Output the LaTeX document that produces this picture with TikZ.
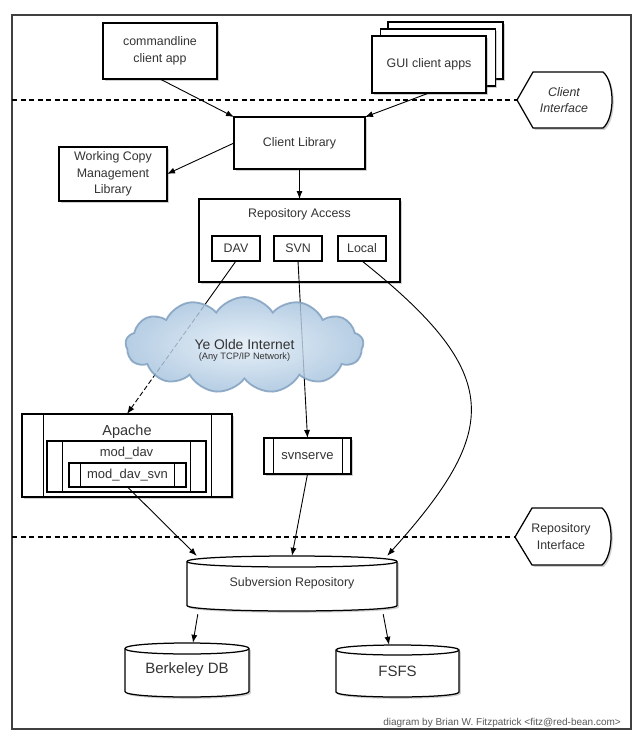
\documentclass[tikz,border=0pt]{standalone}
\usepackage{fontspec}
\setmainfont{Liberation Sans}
\usetikzlibrary{arrows.meta,shapes.symbols,shadows,calc}
\definecolor{txt}{HTML}{333333}
\definecolor{cloudin}{HTML}{E2EDF7}
\definecolor{cloudout}{HTML}{A6C3DE}
\definecolor{cloudedge}{HTML}{7E9EBE}
\newcommand\lbl{\fontsize{12.4}{16.5}\selectfont}
\newcommand\cylpath[6][]{%
  \filldraw[cyl,#1] (#2,#4+#6) -- (#2,#5-#6) .. controls (#2,#5+0.333*#6) and (#3,#5+0.333*#6) .. (#3,#5-#6)
    -- (#3,#4+#6) .. controls (#3,#4-0.333*#6) and (#2,#4-0.333*#6) .. cycle;
  \draw[line width=1.25pt] (#2,#4+#6) .. controls (#2,#4+2.333*#6) and (#3,#4+2.333*#6) .. (#3,#4+#6);}
\tikzset{
  shad/.style={drop shadow={shadow xshift=1.8pt,shadow yshift=-1.8pt,opacity=0.3,fill=black!60}},
  box/.style={draw=black,line width=1.25pt,fill=white,shad,text=txt,font=\lbl,align=center,inner sep=0pt,outer sep=0pt},
  plainbox/.style={draw=black,line width=1.25pt,fill=white,text=txt,font=\lbl,align=center,inner sep=0pt,outer sep=0pt},
  lbltext/.style={text=txt,font=\lbl,align=center,inner sep=0pt},
  cyl/.style={draw=black,line width=1.25pt,fill=white,shad},
  iface/.style={draw=black,line width=1.25pt,fill=white,shad},
  bar/.style={line width=1pt},
  arr/.style={-{Latex[length=8pt,width=6pt]},line width=0.9pt},
  conn/.style={line width=0.9pt},
  dashline/.style={line width=1.2pt,dash pattern=on 5pt off 3.5pt},
}
\begin{document}
\begin{tikzpicture}[x=1pt,y=-1pt]
\useasboundingbox (0,0) rectangle (640,741);
\fill[white] (0,0) rectangle (640,741);
% frame
\draw[line width=1.3pt,draw=black!75] (12,15) rectangle (631,729);

% interface markers
\coordinate (ciTip) at (517,100);
\coordinate (ciLeft) at (12,100);
\filldraw[iface] (ciTip) -- (533,72) -- (603,72) .. controls (615,82) and (615,118) .. (603,128) -- (533,128) -- cycle;
\node[lbltext,font=\lbl\itshape] (ci) at (564,100) {Client\\Interface};
\draw[dashline] (ciLeft) -- (ciTip);

\coordinate (riTip) at (515,537);
\coordinate (riLeft) at (12,537);
\filldraw[iface] (riTip) -- (532,508) -- (602,508) .. controls (614,518) and (614,555) .. (602,565) -- (532,565) -- cycle;
\node[lbltext] (ri) at (561,536.5) {Repository\\Interface};
\draw[dashline] (riLeft) -- (riTip);

% client apps
\node[box,minimum width=114pt,minimum height=56pt] (cmd) at (160,51) {commandline\\client app};
\node[box,minimum width=115pt,minimum height=57pt] (guiC) at (445.5,50.5) {};
\node[box,minimum width=115pt,minimum height=57pt] (guiB) at (438,57.5) {};
\node[box,minimum width=114pt,minimum height=57pt] (gui) at (429,64.5) {GUI client apps};

% libraries
\node[box,minimum width=131pt,minimum height=52pt] (cl) at (299.5,143) {Client Library};
\node[box,minimum width=108pt,minimum height=54pt] (wc) at (113,174) {Working Copy\\Management\\Library};

% repository access
\node[box,minimum width=201pt,minimum height=83pt] (ra) at (299.5,240.5) {};
\node[lbltext] (raT) at (299.5,214) {Repository Access};
\node[plainbox,minimum width=48pt,minimum height=25pt] (dav) at (236,248.5) {DAV};
\node[plainbox,minimum width=48pt,minimum height=25pt] (svn) at (298,248.5) {SVN};
\node[plainbox,minimum width=48pt,minimum height=25pt] (local) at (362,248.5) {Local};

% servers
\node[box,minimum width=210pt,minimum height=83pt] (apache) at (127,455.5) {};
\draw[bar] ([xshift=21pt]apache.north west) -- ([xshift=21pt]apache.south west);
\draw[bar] ([xshift=-21pt]apache.north east) -- ([xshift=-21pt]apache.south east);
\node[lbltext,font=\fontsize{14.5}{16}\selectfont] (apacheT) at (127,432) {Apache};
\node[plainbox,minimum width=159pt,minimum height=51pt] (moddav) at (126.5,466.5) {};
\draw[bar] ([xshift=15.5pt]moddav.north west) -- ([xshift=15.5pt]moddav.south west);
\draw[bar] ([xshift=-15.5pt]moddav.north east) -- ([xshift=-15.5pt]moddav.south east);
\node[lbltext,font=\fontsize{13}{15}\selectfont] (moddavT) at (126.5,453) {mod\_dav};
\node[plainbox,minimum width=117pt,minimum height=24pt,font=\fontsize{13}{15}\selectfont] (moddavsvn) at (127.5,475) {mod\_dav\_svn};
\draw[bar] ([xshift=11.5pt]moddavsvn.north west) -- ([xshift=11.5pt]moddavsvn.south west);
\draw[bar] ([xshift=-11.5pt]moddavsvn.north east) -- ([xshift=-11.5pt]moddavsvn.south east);

\node[box,minimum width=87pt,minimum height=36pt,font=\fontsize{13}{15}\selectfont] (svnserve) at (307.5,456) {svnserve};
\draw[bar] ([xshift=9pt]svnserve.north west) -- ([xshift=9pt]svnserve.south west);
\draw[bar] ([xshift=-9pt]svnserve.north east) -- ([xshift=-9pt]svnserve.south east);

% repositories
\cylpath{187}{397}{556}{611}{5.5}
\node[lbltext,minimum width=210pt,minimum height=55pt] (sr) at (292,583.5) {Subversion Repository};
\cylpath{125}{249}{643}{697}{5.5}
\node[lbltext,minimum width=124pt,minimum height=54pt,font=\fontsize{15}{17}\selectfont] (bdb) at (187,670) {Berkeley DB};
\cylpath{336}{459}{645}{697}{5}
\node[lbltext,minimum width=123pt,minimum height=52pt,font=\fontsize{15}{17}\selectfont] (fsfs) at (397.5,671) {FSFS};

% connectors through the cloud (drawn first)
\coordinate (davIn) at ($(dav.south)!0.2566!(apache.north)$);
\draw[conn] (dav.south) -- (davIn);
\draw[arr,dash pattern=on 5pt off 2.5pt] (davIn) -- (apache.north);
\draw[arr] (svn.south) -- (svnserve.north);

% cloud
\node[cloud,cloud puffs=13,cloud puff arc=115,aspect=2.5,minimum width=238pt,minimum height=96pt,
      draw=cloudedge,line width=1.8pt,inner color=cloudin,outer color=cloudout,opacity=0.82] (net) at (244.5,345) {};
\node[lbltext,font=\fontsize{13.9}{16}\selectfont] (netT) at (244.5,345) {Ye Olde Internet};
\node[lbltext,font=\fontsize{9.3}{11}\selectfont] (netS) at (244.5,357.5) {(Any TCP/IP Network)};

% other connectors
\draw[arr] (cmd.south) -- (cl.north west);
\draw[arr] (gui.south) -- (cl.north east);
\draw[arr] (cl.west) -- (wc.east);
\draw[arr] (cl.south) -- (ra.north);
\draw[arr] (local.south) .. controls (505,375) and (500,430) .. ([xshift=-10pt]sr.north east);
\draw[arr] (moddavsvn.south) -- ([xshift=10pt]sr.north west);
\draw[arr] (svnserve.south) -- (sr.north);
\draw[arr] ([xshift=11pt,yshift=-3pt]sr.south west) -- ([xshift=6pt]bdb.north);
\draw[arr] ([xshift=-14pt,yshift=-3pt]sr.south east) -- ([xshift=-8.5pt]fsfs.north);

% credit
\node[anchor=east,inner sep=0pt,text=black!65,font=\fontsize{10}{12}\selectfont] (credit) at (621,723) {diagram by Brian W. Fitzpatrick <fitz@red-bean.com>};
\end{tikzpicture}
\end{document}
